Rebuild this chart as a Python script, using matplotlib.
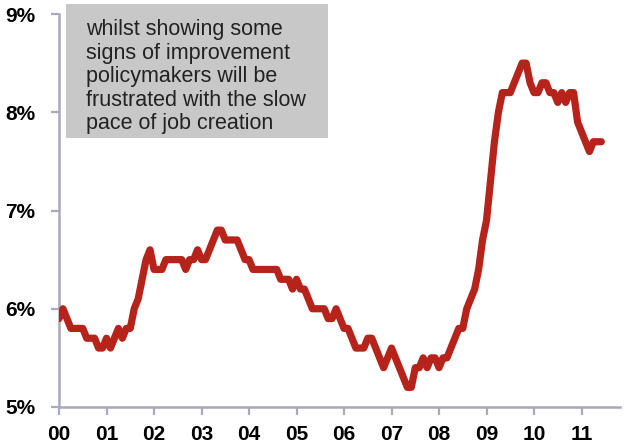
import matplotlib
matplotlib.use("Agg")
import matplotlib.pyplot as plt
from matplotlib.patches import Rectangle
import numpy as np

# Monthly unemployment rate (%), January 2000 onwards
rate_2000 = [5.9, 6.0, 5.9, 5.8, 5.8, 5.8, 5.8, 5.7, 5.7, 5.7, 5.6, 5.6]
rate_2001 = [5.7, 5.6, 5.7, 5.8, 5.7, 5.8, 5.8, 6.0, 6.1, 6.3, 6.5, 6.6]
rate_2002 = [6.4, 6.4, 6.4, 6.5, 6.5, 6.5, 6.5, 6.5, 6.4, 6.5, 6.5, 6.6]
rate_2003 = [6.5, 6.5, 6.6, 6.7, 6.8, 6.8, 6.7, 6.7, 6.7, 6.7, 6.6, 6.5]
rate_2004 = [6.5, 6.4, 6.4, 6.4, 6.4, 6.4, 6.4, 6.4, 6.3, 6.3, 6.3, 6.2]
rate_2005 = [6.3, 6.2, 6.2, 6.1, 6.0, 6.0, 6.0, 6.0, 5.9, 5.9, 6.0, 5.9]
rate_2006 = [5.8, 5.8, 5.7, 5.6, 5.6, 5.6, 5.7, 5.7, 5.6, 5.5, 5.4, 5.5]
rate_2007 = [5.6, 5.5, 5.4, 5.3, 5.2, 5.2, 5.4, 5.4, 5.5, 5.4, 5.5, 5.5]
rate_2008 = [5.4, 5.5, 5.5, 5.6, 5.7, 5.8, 5.8, 6.0, 6.1, 6.2, 6.4, 6.7]
rate_2009 = [6.9, 7.3, 7.7, 8.0, 8.2, 8.2, 8.2, 8.3, 8.4, 8.5, 8.5, 8.3]
rate_2010 = [8.2, 8.2, 8.3, 8.3, 8.2, 8.2, 8.1, 8.2, 8.1, 8.2, 8.2, 7.9]
rate_2011 = [7.8, 7.7, 7.6, 7.7, 7.7, 7.7]

start_year = 2000
year_labels = ["00", "01", "02", "03", "04", "05", "06", "07", "08", "09", "10", "11"]
y_ticks = [5, 6, 7, 8, 9]
y_tick_labels = ["5%", "6%", "7%", "8%", "9%"]

note = ("whilst showing some\nsigns of improvement\npolicymakers will be\n"
        "frustrated with the slow\npace of job creation")

rates = np.array(rate_2000 + rate_2001 + rate_2002 + rate_2003 + rate_2004 +
                 rate_2005 + rate_2006 + rate_2007 + rate_2008 + rate_2009 +
                 rate_2010 + rate_2011)
dates = start_year + np.arange(len(rates)) / 12.0

plt.rcParams["font.family"] = ["Liberation Sans", "DejaVu Sans"]

fig = plt.figure(figsize=(6.24, 4.47), dpi=100)
ax = fig.add_axes([59 / 624, 1 - 407 / 447, (620 - 59) / 624, (407 - 14) / 447])

ax.plot(dates, rates, color="#B5231B", linewidth=5.2, solid_joinstyle="round",
        solid_capstyle="round", zorder=3)

ax.set_xlim(start_year, start_year + 11.81)
ax.set_ylim(5, 9)

spine_col = "#A9A8BC"
for side in ("top", "right"):
    ax.spines[side].set_visible(False)
for side in ("left", "bottom"):
    ax.spines[side].set_color(spine_col)
    ax.spines[side].set_linewidth(1.8)

ax.set_xticks(start_year + np.arange(len(year_labels)))
ax.set_xticklabels(year_labels)
ax.set_yticks(y_ticks)
ax.set_yticklabels(y_tick_labels)
ax.tick_params(axis="both", colors=spine_col, width=1.6, length=6,
               labelcolor="black", labelsize=15)
ax.tick_params(axis="x", pad=7)
ax.tick_params(axis="y", pad=11)
for lbl in ax.get_xticklabels() + ax.get_yticklabels():
    lbl.set_fontweight("bold")

# Annotation box in the upper left
fig.patches.append(Rectangle((66 / 624, 1 - 138 / 447), 262 / 624, 134 / 447,
                             transform=fig.transFigure, facecolor="#C8C8C8",
                             edgecolor="none", zorder=5))
fig.text(86 / 624, 1 - 19 / 447, note, ha="left", va="top", fontsize=15.5,
         color="#222222", linespacing=1.16, zorder=6)

fig.savefig("out.png", dpi=100)
